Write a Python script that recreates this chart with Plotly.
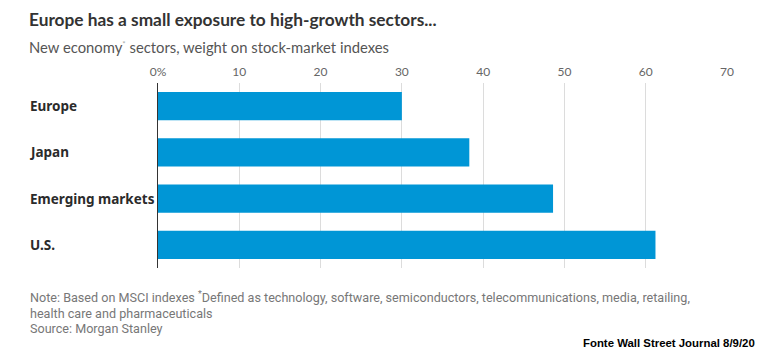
import plotly.graph_objects as go

categories = ["Europe", "Japan", "Emerging markets", "U.S."]
values = [30.0, 38.3, 48.6, 61.2]
tick_vals = [0, 10, 20, 30, 40, 50, 60, 70]
tick_text = ["0%", "10", "20", "30", "40", "50", "60", "70"]

# page body adds an 8px margin; work in reference pixel coords minus OFF
OFF = 8
W, H = 766 - OFF, 358 - 2 * OFF
L = 157.5 - OFF
T = 83 - OFF
B = H - (268 - OFF)
R = W - (726.6 - OFF)

fig = go.Figure(go.Bar(
    y=categories, x=values, orientation="h",
    marker=dict(color="#0096D6", line=dict(width=0)),
    hoverinfo="skip",
))

fig.update_layout(
    width=W, height=H,
    margin=dict(l=L, r=R, t=T, b=B, pad=0),
    paper_bgcolor="white", plot_bgcolor="white",
    bargap=0.39,
    showlegend=False,
    xaxis=dict(
        range=[0, 70], side="top", tickvals=tick_vals, ticktext=tick_text,
        showgrid=True, gridcolor="#dcdcdc", gridwidth=1, zeroline=False,
        showline=False, ticks="", ticklabelstandoff=4,
        tickfont=dict(family="Lato", size=12, color="#666"),
        fixedrange=True,
    ),
    yaxis=dict(
        autorange="reversed", showgrid=False, zeroline=False,
        showline=True, linecolor="#333", linewidth=1,
        ticks="", showticklabels=False,
        fixedrange=True,
    ),
    font=dict(family="Noto Sans"),
)

PW = W - L - R
PH = H - T - B

def pap_x(px):
    return (px - 2 - OFF - L) / PW

def pap_y(py):
    return 1 - (py - OFF - T) / PH

ann = []
for c in categories:
    ann.append(dict(text="<b>%s</b>" % c, x=pap_x(29), xref="paper", y=c, yref="y",
                    xanchor="left", yanchor="middle",
                    font=dict(family="Noto Sans", size=13.5, color="#2b2b2b")))
ann.append(dict(text="<b>Europe has a small exposure to high-growth sectors...</b>",
                x=pap_x(28), y=pap_y(20), xanchor="left", yanchor="middle",
                font=dict(family="Lato", size=17.3, color="#333")))
ann.append(dict(text="New economy<sup><span style='font-size:8px;color:#aaa'>*</span></sup> sectors, weight on stock-market indexes",
                x=pap_x(28), y=pap_y(47), xanchor="left", yanchor="middle",
                font=dict(family="Lato", size=14.8, color="#555")))
ann.append(dict(text="Note: Based on MSCI indexes <sup>*</sup>Defined as technology, software, semiconductors, telecommunications, media, retailing,",
                x=pap_x(29), y=pap_y(297), xanchor="left", yanchor="middle",
                font=dict(family="Roboto", size=12.6, color="#777")))
ann.append(dict(text="health care and pharmaceuticals",
                x=pap_x(29), y=pap_y(313), xanchor="left", yanchor="middle",
                font=dict(family="Roboto", size=12.6, color="#777")))
ann.append(dict(text="Source: Morgan Stanley",
                x=pap_x(29), y=pap_y(328), xanchor="left", yanchor="middle",
                font=dict(family="Roboto", size=12.6, color="#777")))
ann.append(dict(text="<b>Fonte Wall Street Journal 8/9/20</b>",
                x=pap_x(759), y=pap_y(343), xanchor="right", yanchor="middle",
                font=dict(family="Liberation Sans", size=11.4, color="#000")))
for a in ann:
    a.setdefault("xref", "paper")
    a.setdefault("yref", "paper")
    a.update(showarrow=False, align="left")
fig.update_layout(annotations=ann)

fig.write_html("out.html")
